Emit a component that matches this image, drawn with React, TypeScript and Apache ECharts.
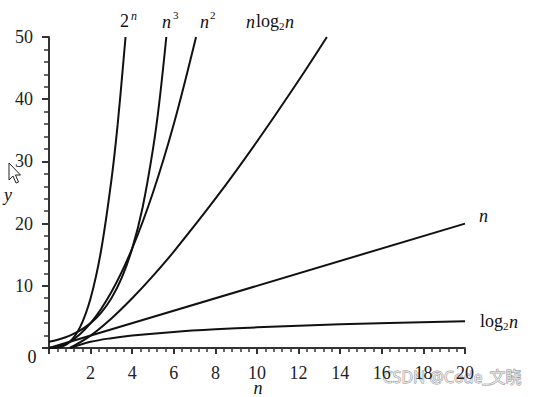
import React, { useEffect, useRef } from "react";
import * as echarts from "echarts";

// Curve samples: [n, y]
const curveCube: number[][] = [[0, 0], [0.5, 0.13], [1, 1], [1.5, 3.4], [2, 8], [2.5, 15.6], [3, 27], [3.3, 35.9], [3.68, 50]];
const curveExp: number[][] = [[0, 1], [0.5, 1.41], [1, 2], [1.5, 2.83], [2, 4], [2.5, 5.66], [3, 8], [3.5, 11.3], [4, 16], [4.5, 22.6], [5, 32], [5.3, 39.4], [5.64, 50]];
const curveSquare: number[][] = [[0, 0], [1, 1], [2, 4], [3, 9], [4, 16], [5, 25], [6, 36], [7.07, 50]];
const curveNLogN: number[][] = [[1, 0], [2, 2], [3, 4.75], [4, 8], [5, 11.6], [6, 15.5], [8, 24], [10, 33.2], [12, 43], [13.36, 50]];
const curveLinear: number[][] = [[0, 0], [20, 20]];
const curveLog: number[][] = [[1, 0], [2, 1], [3, 1.58], [4, 2], [6, 2.58], [8, 3], [10, 3.32], [14, 3.81], [20, 4.32]];

const xMin = 0, xMax = 20, xStep = 2;
const yMin = 0, yMax = 50, yStep = 10;

const SERIF = "Liberation Serif";
const INK = "#111";

function txt(text: string, x: number, y: number, size: number, italic = false, align = "left") {
  return {
    type: "text",
    x,
    y,
    style: {
      text,
      fill: INK,
      fontFamily: SERIF,
      fontSize: size,
      fontStyle: italic ? "italic" : "normal",
      textAlign: align,
      textVerticalAlign: "middle",
    },
  };
}

export default function App() {
  const ref = useRef<HTMLDivElement>(null);
  useEffect(() => {
    if (!ref.current) return;
    const chart = echarts.init(ref.current, undefined, { renderer: "svg" });
    const line = (data: number[][], smooth: boolean | number = 0.35) => ({
      type: "line",
      data,
      smooth,
      symbol: "none",
      lineStyle: { color: INK, width: 2 },
      clip: true,
    });
    chart.setOption({
      animation: false,
      backgroundColor: "#fff",
      grid: { left: 49, right: 74, top: 37, bottom: 49, containLabel: false },
      xAxis: {
        type: "value",
        min: xMin,
        max: xMax,
        interval: xStep,
        splitLine: { show: false },
        axisLine: { show: true, onZero: false, lineStyle: { color: "#333", width: 2 } },
        axisTick: { show: true, inside: false, length: 6, lineStyle: { color: "#333", width: 2 } },
        minorTick: { show: true, splitNumber: 5, length: 4, lineStyle: { color: "#333", width: 1.5 } },
        axisLabel: {
          margin: 16,
          color: "#222",
          fontFamily: SERIF,
          fontSize: 18,
          formatter: (v: number) => (v === 0 ? "" : String(v)),
        },
      },
      yAxis: {
        type: "value",
        min: yMin,
        max: yMax,
        interval: yStep,
        splitLine: { show: false },
        axisLine: { show: true, onZero: false, lineStyle: { color: "#333", width: 2 } },
        axisTick: { show: true, inside: false, length: 7, lineStyle: { color: "#333", width: 2 } },
        minorTick: { show: true, splitNumber: 5, length: 5, lineStyle: { color: "#333", width: 1.5 } },
        axisLabel: {
          margin: 16,
          color: "#222",
          fontFamily: SERIF,
          fontSize: 18,
          formatter: (v: number) => (v === 0 ? "" : String(v)),
        },
      },
      series: [
        line(curveCube),
        line(curveExp),
        line(curveSquare),
        line(curveNLogN),
        line(curveLinear, false),
        line(curveLog),
      ],
      graphic: [
        // corner zero and axis names
        txt("0", 32, 357, 18, false, "center"),
        txt("y", 8, 195, 18, true, "center"),
        txt("n", 258, 388, 18, true, "center"),
        // 2^n
        txt("2", 120, 21, 18),
        txt("n", 131, 16, 12, true),
        // n^3
        txt("n", 162, 22, 18, true),
        txt("3", 173, 15, 11),
        // n^2
        txt("n", 200, 22, 18, true),
        txt("2", 210, 15, 11),
        // n log2 n
        txt("n", 246, 22, 18, true),
        txt("log", 256, 21, 18),
        txt("2", 279, 26, 11),
        txt("n", 285, 22, 18, true),
        // n
        txt("n", 479, 216, 18, true),
        // log2 n
        txt("log", 480, 321, 18),
        txt("2", 503, 326, 11),
        txt("n", 509, 322, 18, true),
        // cursor
        {
          type: "polygon",
          shape: { points: [[9, 163], [9, 180], [13, 176], [16, 183], [18.5, 182], [15.5, 175], [20.5, 175]] },
          style: { fill: "#fff", stroke: "#222", lineWidth: 1 },
        },
        // watermark
        {
          type: "text",
          x: 452,
          y: 377,
          style: {
            text: "CSDN @Code_文晓",
            fontFamily: "Noto Sans, Noto Sans CJK SC, sans-serif",
            fontSize: 16,
            fill: "rgba(235,235,235,0.85)",
            stroke: "#8a8a8a",
            lineWidth: 0.8,
            textAlign: "center",
            textVerticalAlign: "middle",
          },
        },
      ],
    });
    return () => chart.dispose();
  }, []);
  return <div ref={ref} style={{ width: 539, height: 397, position: "absolute", left: 0, top: 0 }} />;
}
